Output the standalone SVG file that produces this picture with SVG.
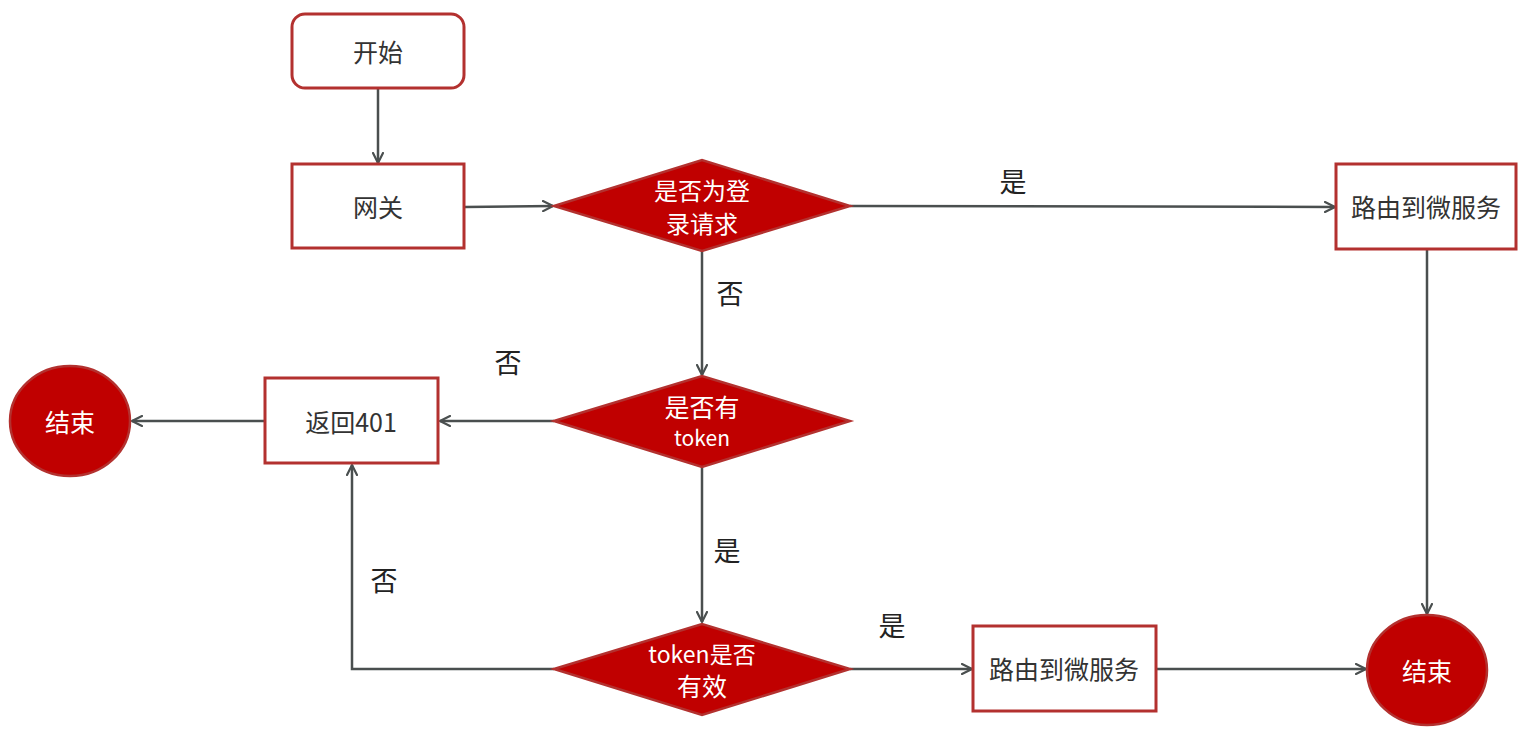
<svg xmlns="http://www.w3.org/2000/svg" width="1529" height="735" viewBox="0 0 1529 735">
<defs>
<marker id="arr" viewBox="0 0 12 12" refX="11" refY="6" markerWidth="12" markerHeight="12" markerUnits="userSpaceOnUse" orient="auto">
<path d="M1,1 L11,6 L1,11" fill="none" stroke="#4a4f4f" stroke-width="2.2" stroke-linecap="round" stroke-linejoin="round"/>
</marker>
<style>
text{font-family:"Noto Sans CJK SC","Noto Sans",sans-serif;text-anchor:middle;dominant-baseline:central}
.box{fill:#ffffff;stroke:#b3312f;stroke-width:3}
.dia{fill:#c00000;stroke:#b3312f;stroke-width:2.5}
.end{fill:#c00000;stroke:#b3312f;stroke-width:2.5}
.dark{fill:#333333;font-size:25px}
.white{fill:#ffffff;font-size:25px}
.lbl{fill:#222222;font-size:27px}
.con{fill:none;stroke:#4a4f4f;stroke-width:2.5;marker-end:url(#arr)}
</style>
</defs>
<rect width="1529" height="735" fill="#ffffff"/>
<g id="connectors">
<path class="con" d="M378,89 L378,163"/>
<path class="con" d="M465,207 L553,206"/>
<path class="con" d="M850,206 L1335,207"/>
<path class="con" d="M702,251 L702,375"/>
<path class="con" d="M554,421 L440,421"/>
<path class="con" d="M264,421 L132,421"/>
<path class="con" d="M702,467 L702,622"/>
<path class="con" d="M554,669 L352,669 L352,465"/>
<path class="con" d="M850,669 L972,669"/>
<path class="con" d="M1157,669 L1366,669"/>
<path class="con" d="M1427,250 L1427,614"/>
<text class="lbl" x="1013" y="180">是</text>
<text class="lbl" x="730" y="292">否</text>
<text class="lbl" x="508" y="361">否</text>
<text class="lbl" x="727" y="549">是</text>
<text class="lbl" x="384" y="579">否</text>
<text class="lbl" x="892" y="624">是</text>
</g>
<g id="start">
<rect class="box" x="292" y="14" width="172" height="74" rx="13"/>
<text class="dark" x="378" y="51">开始</text>
</g>
<g id="gateway">
<rect class="box" x="292" y="164" width="172" height="84"/>
<text class="dark" x="378" y="206">网关</text>
</g>
<g id="isLogin">
<polygon class="dia" points="554,206 702,160 850,206 702,251"/>
<text class="white" x="702" y="189" style="font-size:24px">是否为登</text>
<text class="white" x="702" y="222" style="font-size:24px">录请求</text>
</g>
<g id="routeTop">
<rect class="box" x="1336" y="164" width="180" height="85"/>
<text class="dark" x="1426" y="206">路由到微服务</text>
</g>
<g id="hasToken">
<polygon class="dia" points="554,421 702,376 850,421 702,467"/>
<text class="white" x="702" y="406">是否有</text>
<text class="white" x="702" y="437" style="font-size:21px">token</text>
</g>
<g id="return401">
<rect class="box" x="265" y="378" width="173" height="85"/>
<text class="dark" x="351" y="421">返回401</text>
</g>
<g id="endLeft">
<ellipse class="end" cx="70" cy="421" rx="60" ry="55"/>
<text class="white" x="70" y="421">结束</text>
</g>
<g id="tokenValid">
<polygon class="dia" points="554,669 702,624 850,669 702,715"/>
<text class="white" x="702" y="653" style="font-size:23px">token是否</text>
<text class="white" x="702" y="685">有效</text>
</g>
<g id="routeBottom">
<rect class="box" x="973" y="626" width="183" height="85"/>
<text class="dark" x="1064" y="668">路由到微服务</text>
</g>
<g id="endRight">
<ellipse class="end" cx="1427" cy="670" rx="60" ry="55"/>
<text class="white" x="1427" y="670">结束</text>
</g>
</svg>
